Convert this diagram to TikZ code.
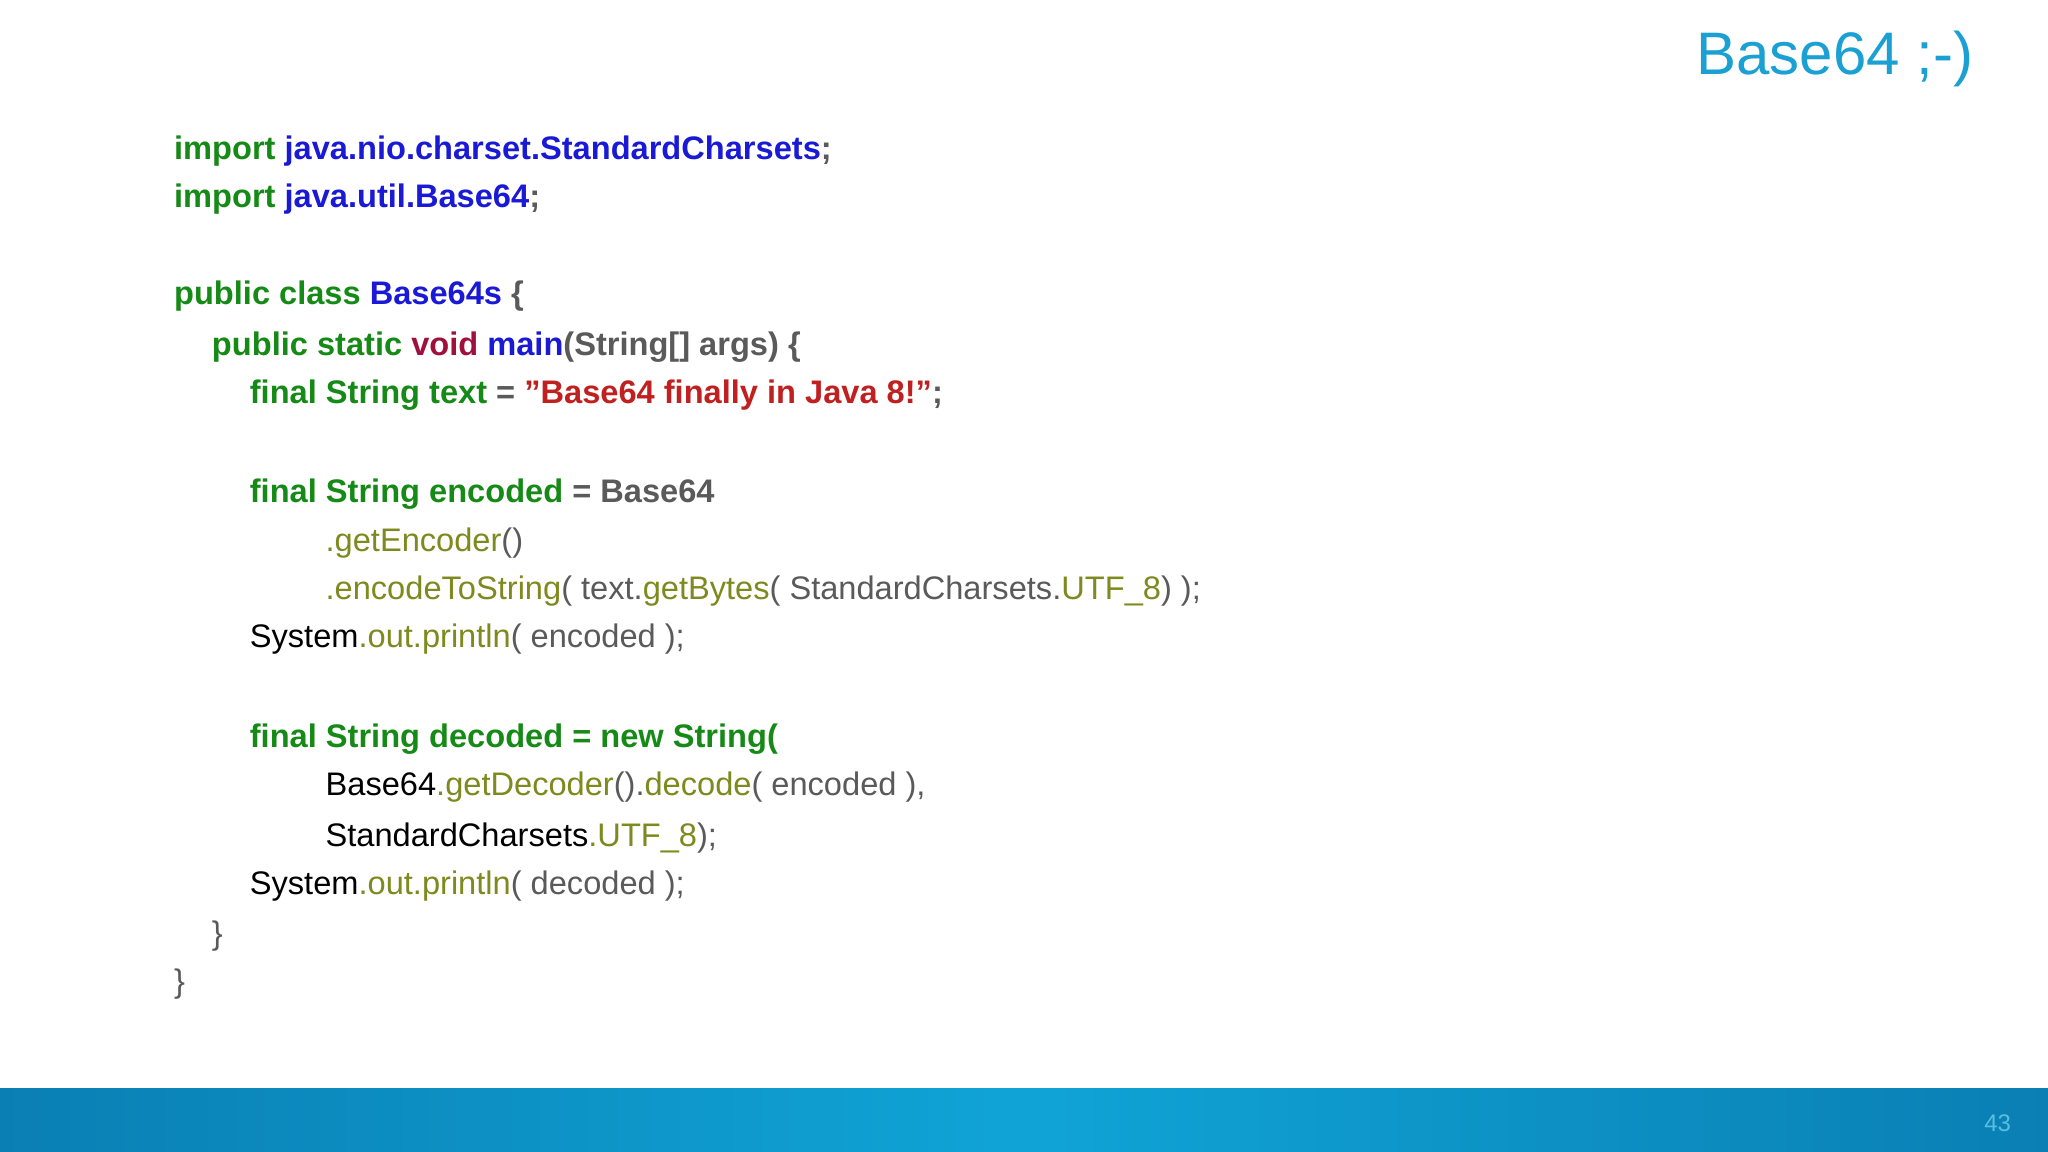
\documentclass[tikz,border=0pt]{standalone}
\usepackage{fontspec}
\setmainfont{Liberation Sans}
\definecolor{kwg}{HTML}{168A16}
\definecolor{kwb}{HTML}{1A1AD6}
\definecolor{gr}{HTML}{5A5A5A}
\definecolor{vd}{HTML}{A0103C}
\definecolor{st}{HTML}{C02020}
\definecolor{ol}{HTML}{7E8A1E}
\definecolor{barA}{HTML}{0A7FB4}
\definecolor{barB}{HTML}{10A4D6}
\definecolor{ttl}{HTML}{1AA0D2}
\newcommand{\G}[1]{\textcolor{kwg}{#1}}
\newcommand{\B}[1]{\textcolor{kwb}{#1}}
\newcommand{\Y}[1]{\textcolor{gr}{#1}}
\newcommand{\V}[1]{\textcolor{vd}{#1}}
\newcommand{\R}[1]{\textcolor{st}{#1}}
\newcommand{\OL}[1]{\textcolor{ol}{#1}}
\begin{document}
\begin{tikzpicture}[x=0.653pt,y=-0.653pt,
  code/.style={anchor=base west,inner sep=0pt,font=\fontsize{16.3}{18}\selectfont}]
\useasboundingbox (0,0) rectangle (1568,882);
\fill[white] (0,0) rectangle (1568,882);
\shade[left color=barA,right color=barA,middle color=barB] (0,833) rectangle (1568,882);
\node[anchor=east,inner sep=0pt,text=ttl,font=\fontsize{30}{34}\selectfont] (title) at (1511,45) {Base64 ;-)};
\node[anchor=east,inner sep=0pt,text=barB!70!white,font=\fontsize{12}{14}\selectfont] (pg) at (1540,860) {43};
\node[code] (l1) at (133,122) {\bfseries\G{import} \B{java.nio.charset.StandardCharsets}\Y{;}};
\node[code] (l2) at (133,159) {\bfseries\G{import} \B{java.util.Base64}\Y{;}};
\node[code] (l3) at (133,233) {\bfseries\G{public class} \B{Base64s} \Y{\{}};
\node[code] (l4) at (162,272) {\bfseries\G{public static} \V{void} \B{main}\Y{(String[] args) \{}};
\node[code] (l5) at (191,309) {\bfseries\G{final String text} \Y{=} \R{"Base64 finally in Java 8!"}\Y{;}};
\node[code] (l6) at (191,385) {\bfseries\G{final String encoded} \Y{= Base64}};
\node[code] (l7) at (249,422) {\OL{.getEncoder}\Y{()}};
\node[code] (l8) at (249,459) {\OL{.encodeToString}\Y{( text.}\OL{getBytes}\Y{( StandardCharsets.}\OL{UTF\_8}\Y{ ) );}};
\node[code] (l9) at (191,496) {System\OL{.out.println}\Y{( encoded );}};
\node[code] (l10) at (191,572) {\bfseries\G{final String decoded = new String(}};
\node[code] (l11) at (249,609) {Base64\OL{.getDecoder}\Y{().}\OL{decode}\Y{( encoded ),}};
\node[code] (l12) at (249,648) {StandardCharsets\OL{.UTF\_8}\Y{ );}};
\node[code] (l13) at (191,685) {System\OL{.out.println}\Y{( decoded );}};
\node[code] (l14) at (162,723) {\Y{\}}};
\node[code] (l15) at (133,760) {\Y{\}}};
\end{tikzpicture}
\end{document}
